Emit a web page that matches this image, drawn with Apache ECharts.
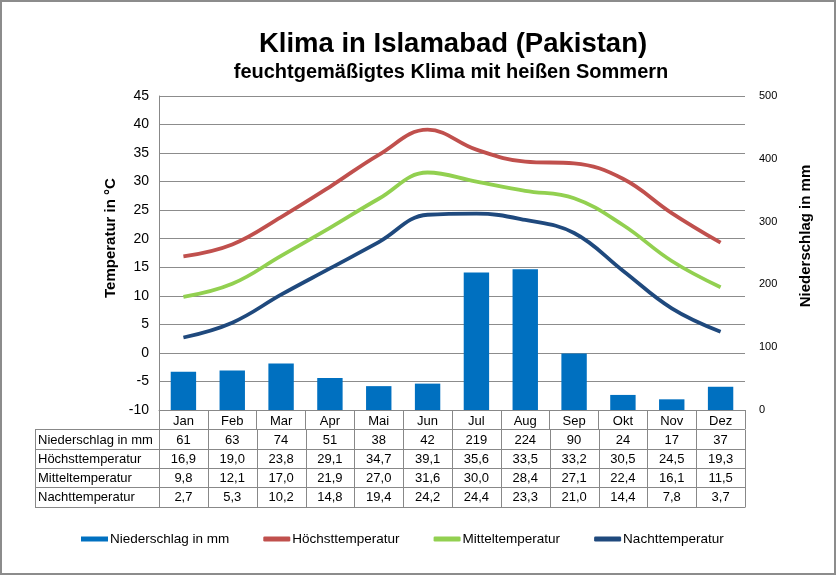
<!DOCTYPE html>
<html><head><meta charset="utf-8">
<script src="https://cdn.jsdelivr.net/npm/echarts@6/dist/echarts.min.js"></script>
<style>html,body{margin:0;padding:0;background:#fff}#c{width:836px;height:575px;box-sizing:border-box;border:2px solid #8c8c8c}</style>
</head><body><div id="c"></div>
<script>
const months = ['Jan','Feb','Mar','Apr','Mai','Jun','Jul','Aug','Sep','Okt','Nov','Dez'];
const niederschlag = [61,63,74,51,38,42,219,224,90,24,17,37];
const hoechst = [16.9,19.0,23.8,29.1,34.7,39.1,35.6,33.5,33.2,30.5,24.5,19.3];
const mittel = [9.8,12.1,17.0,21.9,27.0,31.6,30.0,28.4,27.1,22.4,16.1,11.5];
const nacht = [2.7,5.3,10.2,14.8,19.4,24.2,24.4,23.3,21.0,14.4,7.8,3.7];
const tempTicks = {min:-10, max:45, interval:5};
const rainTicks = {min:0, max:500, interval:100};
const rowNames = ['Niederschlag in mm','Höchsttemperatur','Mitteltemperatur','Nachttemperatur'];

const FONT = '"Liberation Sans", Arial, sans-serif';
const G = {left:157, right:89, top:94, bottom:163};
const chart = echarts.init(document.getElementById('c'));
const fmt = v => v.toFixed(1).replace('.', ',');

const option = {
  animation:false,
  textStyle:{fontFamily:FONT},
  title:[
    {text:'Klima in Islamabad (Pakistan)', left:446, textAlign:'center', top:23, textStyle:{fontFamily:FONT, fontSize:27.5, fontWeight:'bold', color:'#000'}},
    {text:'feuchtgemäßigtes Klima mit heißen Sommern', left:444, textAlign:'center', top:55, textStyle:{fontFamily:FONT, fontSize:20, fontWeight:'bold', color:'#000'}}
  ],
  grid:{left:G.left, right:G.right, top:G.top, bottom:G.bottom},
  legend:{
    top:530, left:79, padding:0, itemWidth:27, itemHeight:5, itemGap:34,
    textStyle:{fontFamily:FONT, fontSize:13.5, color:'#000', padding:[0,0,0,-3]},
    data:[
      {name:'Niederschlag in mm', icon:'rect'},
      {name:'Höchsttemperatur', icon:'roundRect'},
      {name:'Mitteltemperatur', icon:'roundRect'},
      {name:'Nachttemperatur', icon:'roundRect'}
    ]
  },
  xAxis:{
    type:'category', data:months, boundaryGap:true,
    axisLine:{show:true, onZero:false, lineStyle:{color:'#888', width:1}},
    axisTick:{show:true, interval:0, length:19, lineStyle:{color:'#888'}},
    axisLabel:{fontFamily:FONT, fontSize:13, color:'#000', margin:5}
  },
  yAxis:[
    {type:'value', min:tempTicks.min, max:tempTicks.max, interval:tempTicks.interval,
     name:'Temperatur in °C', nameLocation:'middle', nameGap:37, nameRotate:90,
     nameTextStyle:{fontFamily:FONT, fontSize:15, fontWeight:'bold', color:'#000', padding:[0,0,0,30]},
     axisLine:{show:true, lineStyle:{color:'#888'}}, axisTick:{show:false},
     axisLabel:{fontFamily:FONT, fontSize:14, color:'#000', margin:10},
     splitLine:{lineStyle:{color:'#8c8c8c', width:1}}},
    {type:'value', min:rainTicks.min, max:rainTicks.max, interval:rainTicks.interval,
     name:'Niederschlag in mm', nameLocation:'middle', nameGap:53, nameRotate:90,
     nameTextStyle:{fontFamily:FONT, fontSize:15, fontWeight:'bold', color:'#000', padding:[0,0,0,34]},
     axisLine:{show:false}, axisTick:{show:false},
     axisLabel:{fontFamily:FONT, fontSize:11, color:'#000', margin:14},
     splitLine:{show:false}}
  ],
  series:[
    {name:'Niederschlag in mm', type:'bar', yAxisIndex:1, data:niederschlag, barWidth:'52%', itemStyle:{color:'#0070C0'}},
    {name:'Höchsttemperatur', type:'line', yAxisIndex:0, data:hoechst, smooth:0.4, symbol:'none', lineStyle:{color:'#C0504D', width:3.8}, itemStyle:{color:'#C0504D'}},
    {name:'Mitteltemperatur', type:'line', yAxisIndex:0, data:mittel, smooth:0.4, symbol:'none', lineStyle:{color:'#92D050', width:3.8}, itemStyle:{color:'#92D050'}},
    {name:'Nachttemperatur', type:'line', yAxisIndex:0, data:nacht, smooth:0.4, symbol:'none', lineStyle:{color:'#1F497D', width:3.8}, itemStyle:{color:'#1F497D'}}
  ]
};
chart.setOption(option);

// data table below the plot, built from the arrays
const rows = [niederschlag.map(String), hoechst.map(fmt), mittel.map(fmt), nacht.map(fmt)];
const x0 = chart.convertToPixel({xAxisIndex:0}, months[0]);
const x1 = chart.convertToPixel({xAxisIndex:0}, months[1]);
const colW = x1 - x0;
const plotL = x0 - colW/2, plotR = plotL + colW*months.length;
const axisY = chart.getHeight() - G.bottom;
const rowH = 19.3;
const tableTop = axisY + rowH;
const tabLeft = 33;
const els = [];
const lineStyle = {stroke:'#888', lineWidth:1};
for (let r = 0; r <= rows.length; r++) {
  const y = Math.round(tableTop + r*rowH) + 0.5;
  els.push({type:'line', shape:{x1:tabLeft, y1:y, x2:plotR, y2:y}, style:lineStyle, silent:true});
}
const yb = Math.round(tableTop + rows.length*rowH) + 0.5;
els.push({type:'line', shape:{x1:tabLeft+0.5, y1:Math.round(tableTop)+0.5, x2:tabLeft+0.5, y2:yb}, style:lineStyle});
for (let c = 0; c <= months.length; c++) {
  const x = Math.round(plotL + c*colW) + 0.5;
  els.push({type:'line', shape:{x1:x, y1:Math.round(tableTop)+0.5, x2:x, y2:yb}, style:lineStyle});
}
rows.forEach((vals, r) => {
  const yc = tableTop + r*rowH + rowH/2 + 1;
  els.push({type:'text', x:tabLeft+3, y:yc, style:{text:rowNames[r], fill:'#000', font:'13px '+FONT, textVerticalAlign:'middle', textAlign:'left'}});
  vals.forEach((v, c) => {
    const xc = plotL + c*colW + colW/2;
    els.push({type:'text', x:xc, y:yc, style:{text:v, fill:'#000', font:'13px '+FONT, textVerticalAlign:'middle', textAlign:'center'}});
  });
});
chart.setOption({graphic:{elements:els}});
</script></body></html>
